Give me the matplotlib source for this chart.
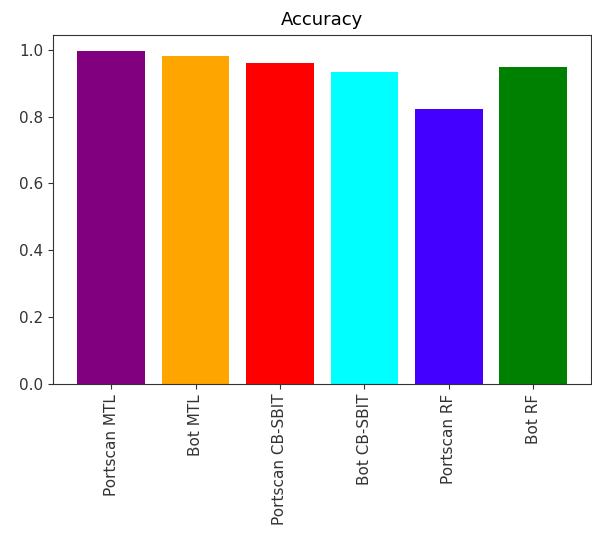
import matplotlib
matplotlib.use("Agg")
import matplotlib.pyplot as plt

categories = ["Portscan MTL", "Bot MTL", "Portscan CB-SBIT", "Bot CB-SBIT", "Portscan RF", "Bot RF"]
values = [0.995, 0.981, 0.961, 0.932, 0.822, 0.947]
colors = ["purple", "orange", "red", "cyan", "#4400ff", "green"]

fig = plt.figure(figsize=(5.92, 5.35), dpi=100)
ax = fig.add_axes([0.0895, 0.282, 0.9095, 0.653])
ax.bar(categories, values, color=colors)
ax.set_title("Accuracy", fontsize=13, pad=7)
ax.tick_params(axis="both", labelsize=11, colors="#333333")
ax.tick_params(axis="x", labelrotation=90)
for s in ax.spines.values():
    s.set_color("#333333")
fig.savefig("out.png", dpi=100)
